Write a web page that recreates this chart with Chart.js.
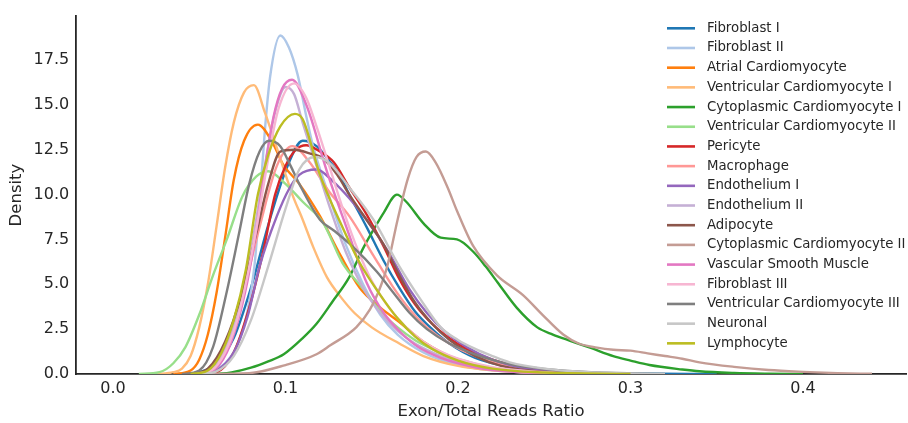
<!DOCTYPE html>
<html>
<head>
<meta charset="utf-8">
<script src="https://cdn.jsdelivr.net/npm/chart.js@4.4.1/dist/chart.umd.min.js"></script>
<style>
  html, body { margin: 0; padding: 0; background: #fff; }
  #chart { display: block; }
</style>
</head>
<body>
<canvas id="chart" width="908" height="423"></canvas>
<script>
// tick labels
const xTicks = [0, 0.1, 0.2, 0.3, 0.4];
const yTicks = [0, 2.5, 5, 7.5, 10, 12.5, 15, 17.5];

const names = [
  'Fibroblast I', 'Fibroblast II', 'Atrial Cardiomyocyte', 'Ventricular Cardiomyocyte I',
  'Cytoplasmic Cardiomyocyte I', 'Ventricular Cardiomyocyte II', 'Pericyte', 'Macrophage',
  'Endothelium I', 'Endothelium II', 'Adipocyte', 'Cytoplasmic Cardiomyocyte II',
  'Vascular Smooth Muscle', 'Fibroblast III', 'Ventricular Cardiomyocyte III', 'Neuronal', 'Lymphocyte'
];
const colors = [
  '#1f77b4', '#aec7e8', '#ff7f0e', '#ffbb78', '#2ca02c', '#98df8a', '#d62728', '#ff9896',
  '#9467bd', '#c5b0d5', '#8c564b', '#c49c94', '#e377c2', '#f7b6d2', '#7f7f7f', '#c7c7c7', '#bcbd22'
];

// density curves, [ratio, density]
const fibroblastI = [[0.04,0],[0.05,0.1],[0.06,0.6],[0.07,2.0],[0.08,4.8],[0.09,8.3],[0.1,11.3],[0.11,13.0],
  [0.118,12.7],[0.126,11.8],[0.13,11.3],[0.137,10.0],[0.147,8.2],[0.157,6.3],[0.166,4.8],[0.175,3.5],
  [0.185,2.5],[0.195,1.7],[0.21,0.9],[0.23,0.4],[0.26,0.12],[0.3,0.03],[0.35,0]];
const fibroblastII = [[0.04,0],[0.055,0.15],[0.065,0.6],[0.072,1.6],[0.078,3.5],[0.082,6.0],[0.085,9.5],
  [0.088,13.5],[0.091,16.5],[0.097,18.87],[0.102,18.2],[0.107,16.7],[0.112,14.4],[0.116,12.7],[0.125,10.0],
  [0.135,7.2],[0.145,5.0],[0.155,3.3],[0.165,2.2],[0.18,1.2],[0.2,0.5],[0.22,0.2],[0.25,0.05],[0.3,0]];
const atrial = [[0.035,0],[0.045,0.2],[0.05,0.8],[0.055,2.2],[0.06,4.5],[0.065,7.6],[0.07,10.8],[0.076,13.0],
  [0.084,13.9],[0.093,12.8],[0.0985,11.7],[0.108,10.6],[0.12,8.8],[0.132,6.6],[0.143,4.8],[0.155,3.7],
  [0.166,2.9],[0.18,1.8],[0.2,0.8],[0.22,0.3],[0.25,0.08],[0.3,0]];
const ventricularI = [[0.025,0],[0.035,0.1],[0.04,0.3],[0.045,1.0],[0.05,2.6],[0.055,5.0],[0.06,8.2],
  [0.065,11.5],[0.07,14.0],[0.076,15.7],[0.0817,16.1],[0.088,14.6],[0.095,12.6],[0.104,10.0],[0.11,8.6],
  [0.116,7.1],[0.124,5.4],[0.132,4.3],[0.14,3.4],[0.15,2.6],[0.166,1.7],[0.18,1.0],[0.2,0.45],[0.22,0.2],
  [0.25,0.05],[0.3,0]];
const cytoplasmicI = [[0.05,0],[0.066,0.05],[0.08,0.35],[0.09,0.7],[0.099,1.1],[0.11,2.0],[0.118,2.8],
  [0.127,4.0],[0.137,5.4],[0.145,7.0],[0.152,8.2],[0.157,9.0],[0.1646,10.0],[0.17,9.6],[0.18,8.4],
  [0.19,7.6],[0.1994,7.5],[0.209,6.8],[0.216,6.0],[0.223,5.1],[0.234,3.7],[0.246,2.6],[0.255,2.2],
  [0.265,1.85],[0.277,1.45],[0.29,1.0],[0.3,0.75],[0.311,0.5],[0.33,0.25],[0.34,0.15],[0.36,0.06],[0.38,0.02],[0.4,0]];
const ventricularII = [[0.015,0],[0.027,0.1],[0.035,0.6],[0.042,1.5],[0.05,3.3],[0.058,5.5],[0.066,7.5],
  [0.075,9.9],[0.083,11.0],[0.09,11.3],[0.1,10.6],[0.11,9.6],[0.122,8.4],[0.133,6.2],[0.145,4.75],[0.155,3.5],
  [0.165,2.6],[0.175,1.9],[0.185,1.4],[0.195,1.0],[0.205,0.7],[0.22,0.35],[0.25,0.1],[0.3,0]];
const pericyte = [[0.05,0],[0.06,0.1],[0.07,1.2],[0.079,3.7],[0.087,6.8],[0.094,10.0],[0.1,11.6],[0.106,12.5],
  [0.112,12.75],[0.12,12.4],[0.128,11.8],[0.137,10.4],[0.147,8.9],[0.157,7.1],[0.166,5.3],[0.175,3.9],
  [0.185,2.8],[0.195,2.0],[0.205,1.4],[0.22,0.8],[0.24,0.3],[0.27,0.08],[0.3,0]];
const macrophage = [[0.045,0],[0.055,0.2],[0.065,1.5],[0.075,4.4],[0.085,8.2],[0.095,11.6],[0.104,12.7],
  [0.114,11.8],[0.125,10.2],[0.137,8.8],[0.151,6.6],[0.162,4.9],[0.172,3.6],[0.182,2.6],[0.195,1.7],
  [0.21,1.0],[0.23,0.45],[0.25,0.15],[0.3,0]];
const endotheliumI = [[0.05,0],[0.06,0.2],[0.07,1.2],[0.078,3.2],[0.085,6.0],[0.095,8.8],[0.102,10.3],
  [0.108,11.1],[0.118,11.4],[0.128,10.7],[0.137,9.8],[0.147,8.6],[0.159,6.9],[0.172,4.7],[0.182,3.4],
  [0.192,2.4],[0.205,1.5],[0.22,0.8],[0.24,0.3],[0.27,0.08],[0.3,0]];
const endotheliumII = [[0.045,0],[0.055,0.2],[0.065,1.4],[0.075,4.4],[0.082,8.0],[0.088,11.6],[0.094,14.6],
  [0.1,16.0],[0.105,15.6],[0.11,14.0],[0.118,11.6],[0.126,9.2],[0.135,6.8],[0.145,4.8],[0.155,3.4],
  [0.165,2.4],[0.175,1.7],[0.19,1.0],[0.2,0.65],[0.22,0.25],[0.25,0.06],[0.3,0]];
const adipocyte = [[0.045,0],[0.055,0.3],[0.065,1.8],[0.075,4.6],[0.083,7.8],[0.09,10.6],[0.097,12.4],
  [0.105,12.5],[0.114,12.3],[0.122,12.0],[0.13,11.1],[0.137,10.0],[0.147,8.6],[0.157,7.2],[0.166,5.5],
  [0.175,4.0],[0.185,2.8],[0.195,1.9],[0.21,1.0],[0.225,0.45],[0.25,0.12],[0.3,0]];
const cytoplasmicII = [[0.05,0],[0.079,0.05],[0.1,0.5],[0.118,1.1],[0.126,1.6],[0.141,2.6],[0.149,3.6],
  [0.154,4.6],[0.159,6.0],[0.165,8.6],[0.171,10.9],[0.176,12.1],[0.1814,12.4],[0.187,11.8],[0.194,10.4],
  [0.1994,9.1],[0.2087,7.15],[0.2226,5.5],[0.2377,4.4],[0.249,3.3],[0.261,2.2],[0.27,1.7],[0.2806,1.47],
  [0.29,1.35],[0.3,1.3],[0.31,1.15],[0.32,1.0],[0.33,0.85],[0.34,0.65],[0.36,0.4],[0.38,0.22],[0.4,0.12],
  [0.42,0.05],[0.44,0.01]];
const vascularSM = [[0.045,0],[0.058,0.2],[0.066,1.2],[0.072,2.8],[0.078,5.2],[0.083,8.0],[0.088,11.4],
  [0.093,14.3],[0.098,15.9],[0.1038,16.4],[0.1125,14.9],[0.124,11.3],[0.136,8.0],[0.147,5.1],[0.157,3.4],
  [0.167,2.3],[0.177,1.5],[0.19,0.9],[0.2,0.6],[0.22,0.22],[0.25,0.05],[0.3,0]];
const fibroblastIII = [[0.045,0],[0.057,0.2],[0.065,1.2],[0.072,3.0],[0.078,5.5],[0.084,8.6],[0.09,12.0],
  [0.096,14.8],[0.105,16.2],[0.112,15.4],[0.118,13.8],[0.126,11.4],[0.134,9.0],[0.142,6.9],[0.15,5.2],
  [0.16,3.7],[0.17,2.6],[0.18,1.8],[0.19,1.25],[0.2,0.85],[0.22,0.38],[0.25,0.1],[0.3,0]];
const ventricularIII = [[0.04,0],[0.05,0.2],[0.058,1.5],[0.066,4.6],[0.073,7.8],[0.079,10.6],[0.085,12.4],
  [0.0904,13.0],[0.097,12.7],[0.103,11.6],[0.108,10.6],[0.12,8.6],[0.128,8.0],[0.139,7.1],[0.153,5.7],
  [0.162,4.6],[0.172,3.4],[0.182,2.5],[0.195,1.7],[0.21,1.1],[0.23,0.55],[0.25,0.28],[0.28,0.08],[0.32,0]];
const neuronal = [[0.05,0],[0.06,0.15],[0.07,1.0],[0.08,3.0],[0.09,6.0],[0.1,9.2],[0.108,11.4],[0.117,12.1],
  [0.125,11.8],[0.137,10.4],[0.151,8.6],[0.166,6.0],[0.178,4.2],[0.19,2.6],[0.2,1.9],[0.21,1.4],[0.22,1.0],
  [0.23,0.65],[0.25,0.3],[0.28,0.08],[0.32,0]];
const lymphocyte = [[0.045,0],[0.055,0.2],[0.063,1.2],[0.07,3.0],[0.077,5.8],[0.084,10.0],[0.09,12.2],
  [0.097,13.8],[0.1055,14.5],[0.11,14.2],[0.12,11.1],[0.132,8.4],[0.143,6.2],[0.155,4.4],[0.165,3.1],
  [0.175,2.1],[0.185,1.4],[0.2,0.75],[0.22,0.3],[0.25,0.08],[0.3,0]];

const series = [fibroblastI, fibroblastII, atrial, ventricularI, cytoplasmicI, ventricularII, pericyte,
  macrophage, endotheliumI, endotheliumII, adipocyte, cytoplasmicII, vascularSM, fibroblastIII,
  ventricularIII, neuronal, lymphocyte];

const textColor = '#262626';
const fontFamily = '"DejaVu Sans", sans-serif';

const sideLegend = {
  id: 'sideLegend',
  afterDraw(chart) {
    const ctx = chart.ctx;
    ctx.save();
    ctx.font = '13.3px ' + fontFamily;
    ctx.textBaseline = 'middle';
    ctx.textAlign = 'left';
    names.forEach((name, i) => {
      const y = 28.3 + i * 19.69;
      ctx.strokeStyle = colors[i];
      ctx.lineWidth = 2.6;
      ctx.beginPath();
      ctx.moveTo(667, y);
      ctx.lineTo(695, y);
      ctx.stroke();
      ctx.fillStyle = textColor;
      ctx.fillText(name, 707, y);
    });
    ctx.restore();
  }
};

const datasets = series.map((pts, i) => ({
  label: names[i],
  data: pts.map(([x, y]) => ({ x, y })),
  borderColor: colors[i],
  backgroundColor: colors[i],
  borderWidth: 2.4,
  pointRadius: 0,
  fill: false,
  cubicInterpolationMode: 'monotone',
  order: series.length - i
}));

new Chart(document.getElementById('chart'), {
  type: 'line',
  data: { datasets },
  plugins: [sideLegend],
  options: {
    responsive: false,
    animation: false,
    devicePixelRatio: 1,
    layout: { padding: { left: 0, right: 1.5, top: 8, bottom: 0 } },
    plugins: { legend: { display: false }, tooltip: { enabled: false } },
    scales: {
      x: {
        type: 'linear',
        min: -0.0216,
        max: 0.46,
        grid: { display: false, drawTicks: false },
        border: { display: true, color: textColor, width: 1.8 },
        afterBuildTicks: s => { s.ticks = xTicks.map(v => ({ value: v })); },
        afterFit: s => { s.height = 49; },
        ticks: {
          padding: 5,
          color: textColor,
          font: { family: fontFamily, size: 16 },
          maxRotation: 0,
          callback: v => v.toFixed(1)
        },
        title: {
          display: true,
          text: 'Exon/Total Reads Ratio',
          color: textColor,
          font: { family: fontFamily, size: 16.5 },
          padding: { top: 0, bottom: 1.5 }
        }
      },
      y: {
        type: 'linear',
        min: 0,
        max: 19.95,
        grid: { display: false, drawTicks: false },
        border: { display: true, color: textColor, width: 1.8 },
        afterBuildTicks: s => { s.ticks = yTicks.map(v => ({ value: v })); },
        afterFit: s => { s.width = 75.7; },
        ticks: {
          padding: 6.5,
          color: textColor,
          font: { family: fontFamily, size: 16 },
          callback: v => v.toFixed(1)
        },
        title: {
          display: true,
          text: 'Density',
          color: textColor,
          font: { family: fontFamily, size: 16.5 },
          padding: { top: 7, bottom: 0 }
        }
      }
    }
  }
});
</script>
</body>
</html>
